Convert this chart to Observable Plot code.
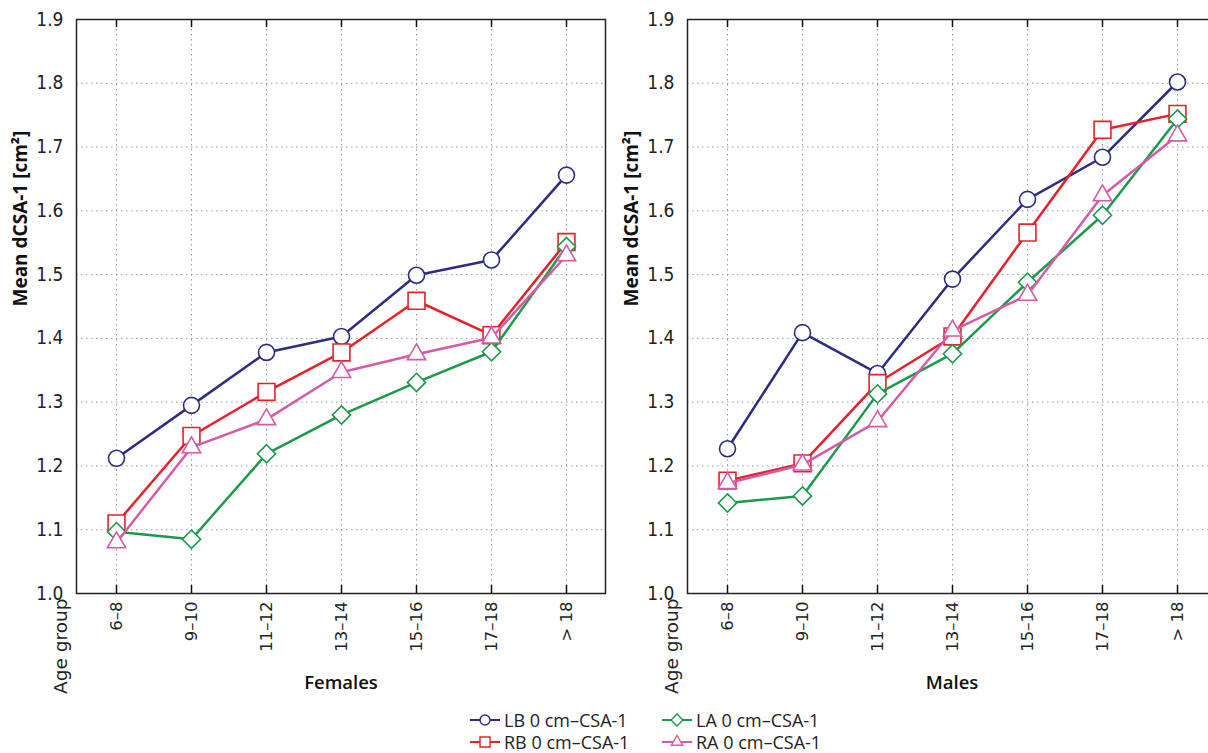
<!DOCTYPE html>
<html>
<head>
<meta charset="utf-8">
<script src="https://cdn.jsdelivr.net/npm/d3@7"></script>
<script src="https://cdn.jsdelivr.net/npm/@observablehq/plot@0.6"></script>
<style>
  html, body { margin: 0; padding: 0; background: #fff; }
  body { width: 1208px; height: 753px; overflow: hidden; position: relative; }
  .panel { position: absolute; top: 0; width: 640px; height: 710px; }
  #left { left: 0; }
  #right { left: 611px; }
  .panel svg { overflow: visible; max-width: none !important; width: 640px !important; height: 710px !important; }
  g[aria-label="y-axis tick label"] text {
    font-family: "Liberation Sans Narrow", "DejaVu Sans Condensed", "Open Sans", sans-serif;
    font-size: 19px; fill: #222;
  }
  g[aria-label="x-axis tick label"] text {
    font-family: "DejaVu Sans", sans-serif; font-size: 16.5px; fill: #222;
  }
  #legend {
    position: absolute; left: 470px; top: 709px;
    display: grid; grid-template-rows: 22px 22px; grid-auto-flow: column;
    grid-template-columns: 192px auto;
    font-family: "Open Sans", sans-serif; font-size: 18px; line-height: 22px; color: #222;
  }
  #legend .item { display: flex; align-items: center; height: 22px; white-space: nowrap; }
  #legend svg { margin-right: 4px; flex: none; }
</style>
</head>
<body>
<div id="left" class="panel"></div>
<div id="right" class="panel"></div>
<div id="legend"></div>
<script>
// ---- data ----
const ageGroups = ["6–8", "9–10", "11–12", "13–14", "15–16", "17–18", "> 18"];
const yTicks = [1.0, 1.1, 1.2, 1.3, 1.4, 1.5, 1.6, 1.7, 1.8, 1.9];
const seriesNames = ["LB 0 cm–CSA-1", "RB 0 cm–CSA-1", "LA 0 cm–CSA-1", "RA 0 cm–CSA-1"];
const seriesColors = ["#2e2b83", "#e8202a", "#1b9a4b", "#d65ba6"];
const seriesSymbols = ["circle", "square", "diamond2", "triangle"];
const panelTitles = ["Females", "Males"];
const yLabel = "Mean dCSA-1 [cm²]";
const xLabel = "Age group";

const femalesLB = [1.212, 1.295, 1.378, 1.403, 1.499, 1.523, 1.656];
const femalesRB = [1.110, 1.247, 1.316, 1.378, 1.459, 1.405, 1.551];
const femalesLA = [1.097, 1.085, 1.219, 1.280, 1.331, 1.379, 1.544];
const femalesRA = [1.080, 1.229, 1.273, 1.347, 1.375, 1.401, 1.530];

const malesLB = [1.227, 1.409, 1.345, 1.493, 1.618, 1.684, 1.802];
const malesRB = [1.177, 1.204, 1.330, 1.403, 1.566, 1.727, 1.752];
const malesLA = [1.142, 1.153, 1.313, 1.376, 1.488, 1.593, 1.744];
const malesRA = [1.173, 1.202, 1.270, 1.412, 1.468, 1.624, 1.718];

// marker radius per symbol (Plot r)
const symbolR = {circle: 8, square: 9.5, diamond2: 8.2, triangle: 6.8};

const W = 640, H = 710, MT = 19, MB = 117, ML = 76, MR = 35;
const frameH = H - MT - MB;
const tickLen = 8;

function rows(seriesValues) {
  return seriesValues.map((vals, s) =>
    vals.map((v, i) => ({age: ageGroups[i], value: v, series: seriesNames[s]})));
}

function panel(title, seriesValues) {
  const data = rows(seriesValues);
  const seriesMarks = [];
  data.forEach((d, s) => {
    seriesMarks.push(Plot.line(d, {x: "age", y: "value", stroke: seriesColors[s], strokeWidth: 2.5}));
    seriesMarks.push(Plot.dot(d, {x: "age", y: "value", symbol: seriesSymbols[s], r: symbolR[seriesSymbols[s]],
      stroke: seriesColors[s], fill: "white", strokeWidth: 1.6}));
  });
  return Plot.plot({
    width: W, height: H,
    marginTop: MT, marginLeft: ML, marginRight: MR, marginBottom: MB,
    style: {fontFamily: "Open Sans, sans-serif", background: "transparent", color: "#222", overflow: "visible"},
    x: {type: "point", domain: ageGroups, padding: 0.5},
    y: {domain: [1.0, 1.9]},
    marks: [
      Plot.gridX({stroke: "#999", strokeOpacity: 1, strokeWidth: 1, strokeDasharray: "1.5,3.5"}),
      Plot.gridY(yTicks, {stroke: "#999", strokeOpacity: 1, strokeWidth: 1, strokeDasharray: "1.5,3.5"}),
      Plot.axisY(yTicks, {tickSize: 0, tickPadding: 13, tickFormat: d3.format(".1f"), label: null}),
      Plot.axisX({anchor: "bottom", tickSize: 0, tickPadding: 8, tickRotate: -90, label: null}),
      // inward ticks at bottom and top of the frame
      Plot.tickX(ageGroups, {x: d => d, insetTop: frameH - tickLen, stroke: "#111", strokeWidth: 1.5}),
      Plot.tickX(ageGroups, {x: d => d, insetBottom: frameH - tickLen, stroke: "#111", strokeWidth: 1.5}),
      Plot.frame({stroke: "#222", strokeWidth: 1.5}),
      ...seriesMarks,
      Plot.text([title], {text: d => d, frameAnchor: "bottom", dy: 95, fontWeight: 600, fontSize: 18.5, fill: "#111"}),
      Plot.text([xLabel], {text: d => d, frameAnchor: "bottom-left", rotate: -90, textAnchor: "end",
        dx: -10, dy: 5, fontSize: 18.5, fontFamily: "DejaVu Sans, sans-serif", fill: "#222"}),
      Plot.text([yLabel], {text: d => d, frameAnchor: "left", rotate: -90, dx: -56,
        fontWeight: "bold", fontSize: 19, fill: "#111"})
    ]
  });
}

document.getElementById("left").appendChild(panel(panelTitles[0], [femalesLB, femalesRB, femalesLA, femalesRA]));
document.getElementById("right").appendChild(panel(panelTitles[1], [malesLB, malesRB, malesLA, malesRA]));

// ---- legend ----
const legendSizes = {circle: 78, square: 100, diamond2: 92, triangle: 55};
const d3Symbols = {circle: d3.symbolCircle, square: d3.symbolSquare, diamond2: d3.symbolDiamond2, triangle: d3.symbolTriangle};
const legend = d3.select("#legend");
seriesNames.forEach((name, s) => {
  const item = legend.append("div").attr("class", "item");
  const sw = item.append("svg").attr("width", 30).attr("height", 22);
  sw.append("line").attr("x1", 0).attr("x2", 30).attr("y1", 11).attr("y2", 11)
    .attr("stroke", seriesColors[s]).attr("stroke-width", 2);
  sw.append("path").attr("transform", "translate(15,11)")
    .attr("d", d3.symbol(d3Symbols[seriesSymbols[s]], legendSizes[seriesSymbols[s]])())
    .attr("fill", "white").attr("stroke", seriesColors[s]).attr("stroke-width", 1.4);
  item.append("span").text(name);
});
</script>
</body>
</html>
